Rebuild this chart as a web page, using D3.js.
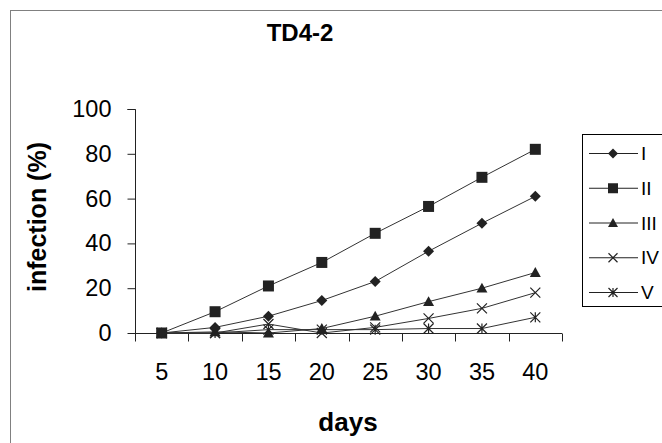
<!DOCTYPE html>
<html>
<head>
<meta charset="utf-8">
<script src="https://cdn.jsdelivr.net/npm/d3@7"></script>
<style>
  html, body { margin: 0; padding: 0; background: #fff; }
  svg { display: block; font-family: "Liberation Sans", Arial, sans-serif; }
</style>
</head>
<body>
<svg id="chart" width="662" height="443"></svg>
<script>
const days = [5, 10, 15, 20, 25, 30, 35, 40];
const seriesNames = ["I", "II", "III", "IV", "V"];
const serI   = [0, 2.5, 7.5, 14.5, 23, 36.5, 49, 61];
const serII  = [0, 9.5, 21, 31.5, 44.5, 56.5, 69.5, 82];
const serIII = [0, 0.5, 0, 2, 7.5, 14, 20, 27];
const serIV  = [0, 0, 4, 0, 2.5, 6.5, 11, 18];
const serV   = [0, 0, 1.5, 1.5, 1.5, 2, 2, 7];
const yTicks = [0, 20, 40, 60, 80, 100];
const chartTitle = "TD4-2";
const xTitle = "days";
const yTitle = "infection (%)";

const seriesValues = [serI, serII, serIII, serIV, serV];
const markers = ["diamond", "square", "triangle", "x", "star"];

const svg = d3.select("#chart");
const ink = "#222";

// outer chart border
svg.append("rect").attr("x", 10.5).attr("y", 10.5).attr("width", 700).attr("height", 500)
  .attr("fill", "none").attr("stroke", "#808080").attr("stroke-width", 1);

const x = d3.scaleBand().domain(days).range([135, 562]).padding(0);
const y = d3.scaleLinear().domain([0, 100]).range([333, 109]);

// Y axis
const yAxis = svg.append("g").attr("transform", "translate(135.5,0)")
  .call(d3.axisLeft(y).tickValues(yTicks).tickSize(8).tickPadding(16));
yAxis.select(".domain").attr("stroke", ink).attr("d", `M-8,${y(100)+0.5}H0V${y(0)+0.5}`);
yAxis.selectAll(".tick line").attr("stroke", ink);
yAxis.selectAll(".tick text").attr("font-size", 23.5).attr("fill", "#000")
  .attr("font-family", "Liberation Sans, Arial, sans-serif");

// X axis (category, ticks between categories)
const xAxis = svg.append("g").attr("transform", "translate(0,333.5)")
  .call(d3.axisBottom(x).tickSize(0).tickPadding(30));
xAxis.select(".domain").attr("stroke", ink).attr("d", `M${x.range()[0]},0H${x.range()[1]}`);
xAxis.selectAll(".tick text").attr("font-size", 23.5).attr("fill", "#000")
  .attr("font-family", "Liberation Sans, Arial, sans-serif");
const boundaries = days.map(d => x(d)).concat([x(days[days.length - 1]) + x.bandwidth()]);
xAxis.selectAll("line.bt").data(boundaries).join("line").attr("class", "bt")
  .attr("x1", d => Math.round(d) + 0.5).attr("x2", d => Math.round(d) + 0.5)
  .attr("y1", 0).attr("y2", 8).attr("stroke", ink);

// marker symbol builder
function drawMarker(g, type, cx, cy, s) {
  if (type === "diamond") {
    g.append("path").attr("d", `M${cx},${cy-s}L${cx+s},${cy}L${cx},${cy+s}L${cx-s},${cy}Z`).attr("fill", ink);
  } else if (type === "square") {
    g.append("rect").attr("x", cx - s).attr("y", cy - s).attr("width", 2*s).attr("height", 2*s).attr("fill", ink);
  } else if (type === "triangle") {
    g.append("path").attr("d", `M${cx},${cy-s}L${cx+s},${cy+s*0.8}L${cx-s},${cy+s*0.8}Z`).attr("fill", ink);
  } else if (type === "x") {
    g.append("path").attr("d", `M${cx-s},${cy-s}L${cx+s},${cy+s}M${cx-s},${cy+s}L${cx+s},${cy-s}`)
      .attr("stroke", ink).attr("stroke-width", 1.2).attr("fill", "none");
  } else if (type === "star") {
    g.append("path").attr("d", `M${cx-s},${cy-s}L${cx+s},${cy+s}M${cx-s},${cy+s}L${cx+s},${cy-s}M${cx},${cy-s}L${cx},${cy+s}`)
      .attr("stroke", ink).attr("stroke-width", 1.2).attr("fill", "none");
  }
}

const cxOf = d => x(d) + x.bandwidth() / 2;
const line = d3.line().x((v, i) => cxOf(days[i])).y(v => y(v));

// series lines (draw last series first so first series on top)
const plot = svg.append("g");
for (let k = seriesValues.length - 1; k >= 0; k--) {
  plot.append("path").datum(seriesValues[k]).attr("d", line)
    .attr("fill", "none").attr("stroke", "#333").attr("stroke-width", 1);
}
for (let k = seriesValues.length - 1; k >= 0; k--) {
  const g = plot.append("g");
  const s = markers[k] === "x" || markers[k] === "star" ? 5 : 5.5;
  seriesValues[k].forEach((v, i) => drawMarker(g, markers[k], cxOf(days[i]), y(v), s));
}

// Title
svg.append("text").attr("x", 300).attr("y", 41).attr("text-anchor", "middle")
  .attr("font-size", 24).attr("font-weight", "bold").text(chartTitle);

// Axis titles
svg.append("text").attr("x", 348).attr("y", 431).attr("text-anchor", "middle")
  .attr("font-size", 26).attr("font-weight", "bold").text(xTitle);
svg.append("text").attr("transform", "translate(46,217) rotate(-90)").attr("text-anchor", "middle")
  .attr("font-size", 25).attr("font-weight", "bold").text(yTitle);

// Legend
const leg = svg.append("g");
leg.append("rect").attr("x", 582.5).attr("y", 134.5).attr("width", 120).attr("height", 172)
  .attr("fill", "#fff").attr("stroke", "#000").attr("stroke-width", 1);
const legY = d3.scalePoint().domain(seriesNames).range([153, 292]);
seriesNames.forEach((n, k) => {
  const ly = legY(n);
  leg.append("line").attr("x1", 589).attr("x2", 638).attr("y1", ly + 0.5).attr("y2", ly + 0.5)
    .attr("stroke", ink).attr("stroke-width", 1);
  drawMarker(leg, markers[k], 613, ly + 0.5, markers[k] === "x" || markers[k] === "star" ? 4.5 : 5);
  leg.append("text").attr("x", 641).attr("y", ly + 7).attr("font-size", 19).attr("fill", "#000").text(n);
});
</script>
</body>
</html>
